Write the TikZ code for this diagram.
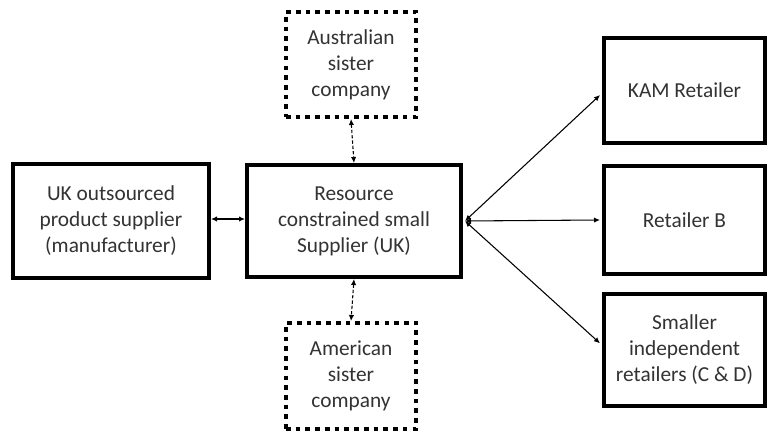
\documentclass[tikz,border=0pt]{standalone}
\usepackage{fontspec}
\setmainfont{Carlito}
\usetikzlibrary{arrows.meta}
\begin{document}
\begin{tikzpicture}[x=0.75pt,y=-0.75pt,
  solidbox/.style={draw=black,line width=3pt,fill=white,align=center,inner sep=0pt,
    font=\fontsize{16}{19.5}\selectfont,text=black!80},
  dotbox/.style={solidbox,line width=3pt,dash pattern=on 3.5pt off 3.8pt},
  arr/.style={line width=0.8pt,{Latex[length=4.5pt,width=4pt]}-{Latex[length=4.5pt,width=4pt]}},
  darr/.style={arr,dashed,dash pattern=on 2.5pt off 1.5pt}]
\useasboundingbox (0,0) rectangle (768,434);
\node[solidbox,minimum width=196*0.75pt,minimum height=114*0.75pt] (uk) at (111,221)
  {UK outsourced\\product supplier\\(manufacturer)};
\node[solidbox,minimum width=214*0.75pt,minimum height=112*0.75pt] (sup) at (354,221)
  {Resource\\constrained small\\Supplier (UK)};
\node[dotbox,minimum width=130*0.75pt,minimum height=105*0.75pt] (aus) at (351,64.5)
  {Australian\\sister\\company};
\node[dotbox,minimum width=130*0.75pt,minimum height=106*0.75pt] (ame) at (351,376)
  {American\\sister\\company};
\node[solidbox,minimum width=161*0.75pt,minimum height=105*0.75pt] (kam) at (684.5,90.5)
  {KAM Retailer};
\node[solidbox,minimum width=161*0.75pt,minimum height=108*0.75pt] (rb) at (684.5,220)
  {Retailer B};
\node[solidbox,minimum width=161*0.75pt,minimum height=112*0.75pt] (sm) at (684.5,350)
  {Smaller\\independent\\retailers (C \& D)};
\coordinate (src) at ([xshift=1.5pt,yshift=0pt]sup.east);
\draw[arr] ([yshift=1.5pt]uk.east) -- ([yshift=1.5pt]sup.west);
\draw[darr] (aus.south) -- (sup.north);
\draw[darr] (sup.south) -- (ame.north);
\draw[arr] (src) -- ([xshift=-1.5pt,yshift=-3.4pt]kam.west);
\draw[arr] (src) -- ([xshift=-1.5pt]rb.west);
\draw[arr] (src) -- ([xshift=-1.5pt,yshift=5pt]sm.west);
\end{tikzpicture}
\end{document}
